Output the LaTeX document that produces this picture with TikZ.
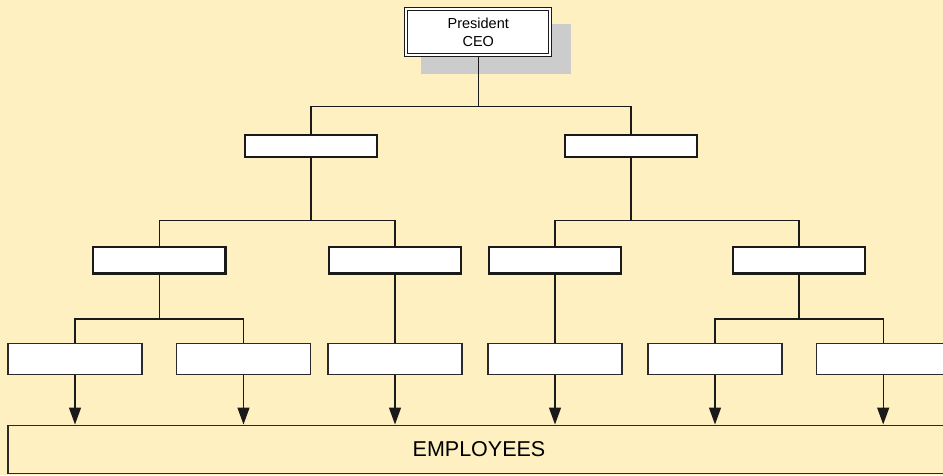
\documentclass[tikz,border=0pt]{standalone}
\usepackage{fontspec}
\setmainfont{Liberation Sans}
\usepackage{xcolor}
\usepackage{tikz}
\usetikzlibrary{positioning,arrows.meta}
\definecolor{paper}{HTML}{FEF0C0}
\definecolor{ink}{HTML}{1A1A1A}
\definecolor{edge}{HTML}{2A2A2A}
\definecolor{shadowgrey}{HTML}{CCCCCC}
\tikzset{
  ceobox/.style={draw=ink, fill=white, double=white, double distance=1.6pt,
                 line width=1pt, align=center, inner sep=0pt,
                 font=\fontsize{14.5}{18}\selectfont,
                 minimum width=144pt, minimum height=46pt},
  headbox/.style={draw=ink, fill=white, line width=2.4pt, inner sep=0pt,
                  minimum width=132.5pt},
  unitbox/.style={draw=edge, fill=white, line width=1.1pt, inner sep=0pt,
                  minimum width=134pt, minimum height=30.7pt},
  staffbox/.style={draw=edge, fill=paper, line width=1.1pt, inner sep=0pt,
                   minimum width=942pt, minimum height=48.5pt,
                   font=\fontsize{21.5}{26}\selectfont},
  wire/.style={draw=ink, line width=1.4pt},
  feed/.style={wire, -{Triangle[length=17pt,width=12pt]}},
}
\begin{document}
\begin{tikzpicture}[x=1pt,y=-1pt]
\useasboundingbox (0,0) rectangle (943,475);
\clip (0,0) rectangle (943,475);
\fill[paper] (0,0) rectangle (943,475);

% top of the chart
\fill[shadowgrey] (421,24) rectangle (571,74);
\node[ceobox] (ceo) at (478.25,32.25) {President\\CEO};

\node[headbox, minimum height=22.2pt] (vpa) at (311,146) {};
\node[headbox, minimum height=22.2pt] (vpb) at (631,146) {};

\node[headbox, minimum height=26.6pt] (mga) at (159.3,260) {};
\node[headbox, minimum height=26.6pt] (mgb) at (395,260) {};
\node[headbox, minimum height=26.6pt] (mgc) at (555,260) {};
\node[headbox, minimum height=26.6pt] (mgd) at (799,260) {};

\node[unitbox] (tma) at (75,359.2) {};
\node[unitbox] (tmb) at (243.5,359.2) {};
\node[unitbox] (tmc) at (395,359.2) {};
\node[unitbox] (tmd) at (555,359.2) {};
\node[unitbox] (tme) at (715,359.2) {};
\node[unitbox] (tmf) at (883.2,359.2) {};

\node[staffbox] (staff) at (479,449.3) {EMPLOYEES};

% tree lines
\draw[wire] (ceo.south) -- ++(0,51) coordinate (hub0);
\draw[wire] (vpa.north) |- (hub0) -| (vpb.north);

\draw[wire] (vpa.south) -- ++(0,62) coordinate (hub1a);
\draw[wire] (mga.north) |- (hub1a) -| (mgb.north);
\draw[wire] (vpb.south) -- ++(0,62) coordinate (hub1b);
\draw[wire] (mgc.north) |- (hub1b) -| (mgd.north);

\draw[wire] (mga.south) -- ++(0,44.5) coordinate (hub2a);
\draw[wire] (tma.north) |- (hub2a) -| (tmb.north);
\draw[wire] (mgb) -- (tmc);
\draw[wire] (mgc) -- (tmd);
\draw[wire] (mgd.south) -- ++(0,44.5) coordinate (hub2d);
\draw[wire] (tme.north) |- (hub2d) -| (tmf.north);

% into the staff box
\draw[feed] (tma.south) -- (tma.south |- staff.north);
\draw[feed] (tmb.south) -- (tmb.south |- staff.north);
\draw[feed] (tmc.south) -- (tmc.south |- staff.north);
\draw[feed] (tmd.south) -- (tmd.south |- staff.north);
\draw[feed] (tme.south) -- (tme.south |- staff.north);
\draw[feed] (tmf.south) -- (tmf.south |- staff.north);
\end{tikzpicture}
\end{document}
